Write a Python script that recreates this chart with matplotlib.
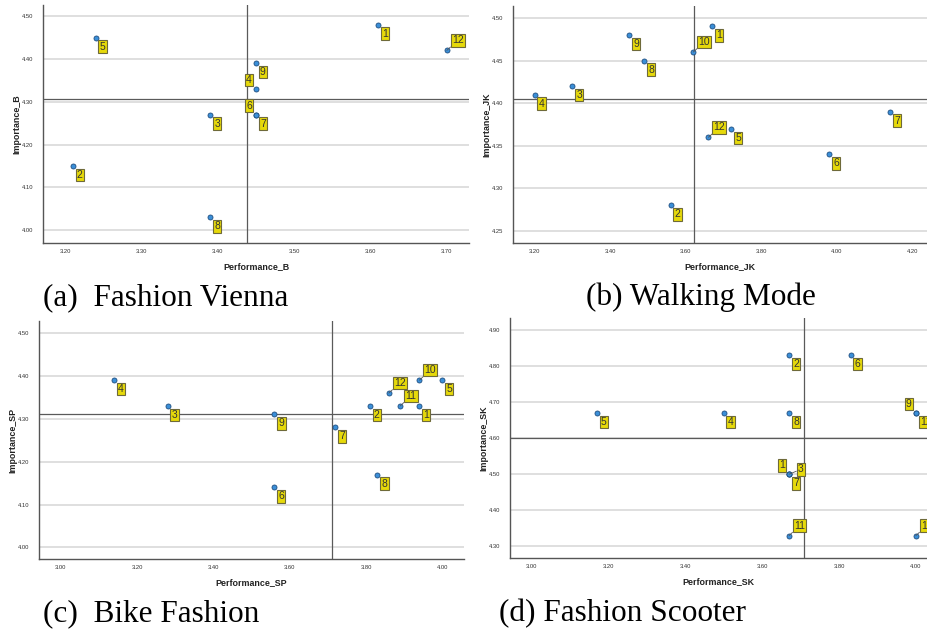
import matplotlib
matplotlib.use("Agg")
import matplotlib.pyplot as plt

# ---- data ----
ids_a = [1, 2, 3, 4, 5, 6, 7, 8, 9, 12]
perf_a = [3.61, 3.21, 3.39, 3.45, 3.24, 3.45, 3.45, 3.39, 3.45, 3.70]
imp_a = [4.48, 4.15, 4.27, 4.33, 4.45, 4.27, 4.27, 4.03, 4.39, 4.42]

ids_b = [1, 2, 3, 4, 5, 6, 7, 8, 9, 10, 12]
perf_b = [3.67, 3.56, 3.30, 3.20, 3.72, 3.98, 4.14, 3.49, 3.45, 3.62, 3.66]
imp_b = [4.49, 4.28, 4.42, 4.41, 4.37, 4.34, 4.39, 4.45, 4.48, 4.46, 4.36]

ids_c = [1, 2, 3, 4, 5, 6, 7, 8, 9, 10, 11, 12]
perf_c = [3.94, 3.81, 3.28, 3.14, 4.00, 3.56, 3.72, 3.83, 3.56, 3.94, 3.89, 3.86]
imp_c = [4.33, 4.33, 4.33, 4.39, 4.39, 4.14, 4.28, 4.17, 4.31, 4.39, 4.33, 4.36]

ids_d = [1, 2, 3, 4, 5, 6, 7, 8, 9, 10, 11, 12]
perf_d = [3.67, 3.67, 3.67, 3.50, 3.17, 3.83, 3.67, 3.67, 4.00, 4.00, 3.67, 4.00]
imp_d = [4.50, 4.83, 4.50, 4.67, 4.67, 4.83, 4.50, 4.67, 4.67, 4.33, 4.33, 4.67]

# reference (mean) lines
ref_a = (3.438, 4.307)
ref_b = (3.622, 4.405)
ref_c = (3.711, 4.312)
ref_d = (3.710, 4.600)

xticks_a = [3.20, 3.30, 3.40, 3.50, 3.60, 3.70]
yticks_a = [4.00, 4.10, 4.20, 4.30, 4.40, 4.50]
xticks_b = [3.20, 3.40, 3.60, 3.80, 4.00, 4.20]
yticks_b = [4.25, 4.30, 4.35, 4.40, 4.45, 4.50]
xticks_c = [3.00, 3.20, 3.40, 3.60, 3.80, 4.00]
yticks_c = [4.00, 4.10, 4.20, 4.30, 4.40, 4.50]
xticks_d = [3.00, 3.20, 3.40, 3.60, 3.80, 4.00]
yticks_d = [4.30, 4.40, 4.50, 4.60, 4.70, 4.80, 4.90]

W, H = 927, 632
fig = plt.figure(figsize=(W / 100, H / 100), dpi=100)

SANS = "Liberation Sans"
SERIF = "Liberation Serif"

# label placement per panel (default: below-right)
place_a = {4: "al", 6: "al", 12: "ar"}
place_b = {10: "ar", 12: "ar"}
place_c = {10: "ar", 11: "ar", 12: "ar"}
place_d = {1: "al", 3: "r", 9: "al", 10: "ar", 11: "ar"}

panels = [
    # left, top, right, bottom (px), xlim, ylim
    dict(box=(43, 5, 469, 243), xlim=(3.171, 3.729), ylim=(3.970, 4.526),
         ids=ids_a, x=perf_a, y=imp_a, ref=ref_a, xt=xticks_a, yt=yticks_a,
         xl="Performance_B", yl="Importance_B", place=place_a),
    dict(box=(513, 6, 927, 243), xlim=(3.143, 4.238), ylim=(4.236, 4.514),
         ids=ids_b, x=perf_b, y=imp_b, ref=ref_b, xt=xticks_b, yt=yticks_b,
         xl="Performance_JK", yl="Importance_JK", place=place_b),
    dict(box=(39, 321, 464, 559), xlim=(2.943, 4.057), ylim=(3.973, 4.528),
         ids=ids_c, x=perf_c, y=imp_c, ref=ref_c, xt=xticks_c, yt=yticks_c,
         xl="Performance_SP", yl="Importance_SP", place=place_c),
    dict(box=(510, 318, 927, 558), xlim=(2.944, 4.029), ylim=(4.268, 4.933),
         ids=ids_d, x=perf_d, y=imp_d, ref=ref_d, xt=xticks_d, yt=yticks_d,
         xl="Performance_SK", yl="Importance_SK", place=place_d),
]

offsets = {
    "br": ((4, -4), "left", "top"),
    "ar": ((5, 5), "left", "bottom"),
    "al": ((-4, 4), "right", "bottom"),
    "r": ((9, 5), "left", "center"),
}

for p in panels:
    l, t, r, b = p["box"]
    ax = fig.add_axes([l / W, (H - b) / H, (r - l) / W, (b - t) / H])
    ax.set_xlim(*p["xlim"])
    ax.set_ylim(*p["ylim"])
    ax.set_xticks(p["xt"])
    ax.set_yticks(p["yt"])
    ax.set_xticklabels([f"{v:.2f}" for v in p["xt"]])
    ax.set_yticklabels([f"{v:.2f}" for v in p["yt"]])
    ax.tick_params(length=0, labelsize=4.2, labelcolor="#333333", pad=4)
    ax.tick_params(axis="y", pad=7)
    for lab in ax.get_xticklabels() + ax.get_yticklabels():
        lab.set_family(SANS)
    for s in ["top", "right"]:
        ax.spines[s].set_visible(False)
    for s in ["left", "bottom"]:
        ax.spines[s].set_color("#555555")
        ax.spines[s].set_linewidth(1.0)
    ax.yaxis.grid(True, color="#dcdcdc", linewidth=1.3)
    ax.set_axisbelow(True)

    ax.axvline(p["ref"][0], color="#5a5a5a", linewidth=0.9, zorder=2)
    ax.axhline(p["ref"][1], color="#5a5a5a", linewidth=0.9, zorder=2)

    ax.scatter(p["x"], p["y"], s=13, color="#3b8fd8", edgecolor="#1f4f80",
               linewidth=0.6, zorder=3)

    for i, xv, yv in zip(p["ids"], p["x"], p["y"]):
        mode = p["place"].get(i, "br")
        off, ha, va = offsets[mode]
        arrow = None
        if mode in ("ar", "r"):
            arrow = dict(arrowstyle="-", color="#555555", lw=0.6,
                         shrinkA=0, shrinkB=0)
        ax.annotate(str(i), (xv, yv), xytext=off, textcoords="offset pixels",
                    ha=ha, va=va, fontsize=7.5, family=SANS, color="#333333",
                    bbox=dict(boxstyle="square,pad=0.12", facecolor="#e6d90a",
                              edgecolor="#6e6a3a", linewidth=0.8),
                    arrowprops=arrow, zorder=4, annotation_clip=False)

    hpx = b - t
    wpx = r - l
    ax.set_xlabel(p["xl"], fontsize=6.4, family=SANS, fontweight="bold",
                  color="#222222", va="center")
    ax.xaxis.set_label_coords(0.5, -24 / hpx)
    ax.set_ylabel(p["yl"], fontsize=6.4, family=SANS, fontweight="bold",
                  color="#222222", va="center")
    ax.yaxis.set_label_coords(-26 / wpx, 0.5)

# captions
captions = [
    ("(a)  Fashion Vienna", 43, 305),
    ("(b) Walking Mode", 586, 305),
    ("(c)  Bike Fashion", 43, 621),
    ("(d) Fashion Scooter", 499, 621),
]
for txt, x, y in captions:
    fig.text(x / W, 1 - y / H, txt, family=SERIF, fontsize=22.5,
             ha="left", va="baseline", color="black")

fig.savefig("out.png", dpi=100)
